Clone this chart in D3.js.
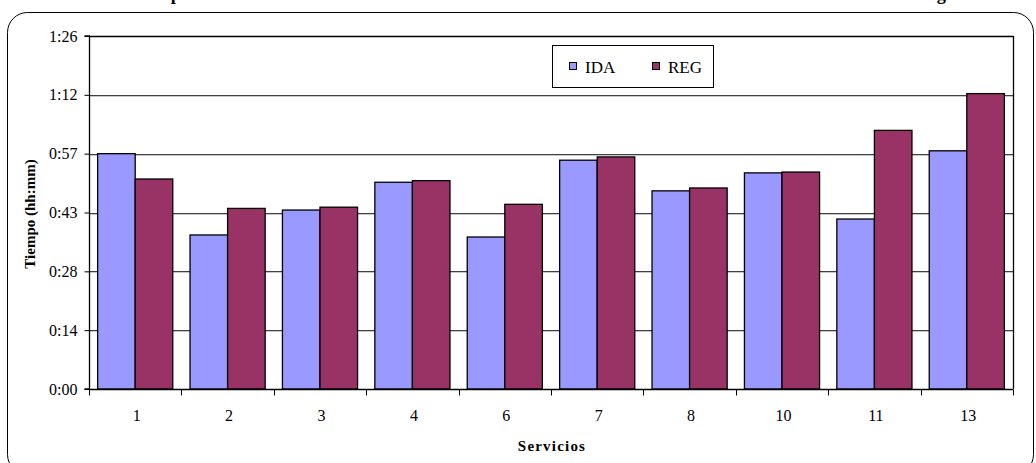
<!DOCTYPE html>
<html><head><meta charset="utf-8">
<script src="https://cdn.jsdelivr.net/npm/d3@7/dist/d3.min.js"></script>
<style>
html,body{margin:0;padding:0;background:#fff;}
svg{display:block;}
svg text{font-family:"Times New Roman","Liberation Serif",Tinos,Times,serif;}
</style></head>
<body>
<svg id="chart" width="1036" height="463"></svg>
<script>
const categories = ["1","2","3","4","6","7","8","10","11","13"];
const idaValues = [57.6,37.7,43.8,50.6,37.2,56.0,48.5,52.9,41.6,58.3];
const regValues = [51.4,44.2,44.5,51.0,45.2,56.8,49.2,53.1,63.3,72.3];
const seriesNames = ["IDA","REG"];
const seriesColors = ["#9999FF","#993366"];
const yTickValues = [0,14.4,28.8,43.2,57.6,72,86.4];
const titleText = "Comparación de la duración media de los recorridos IDA frente a REG en cada servicio del horario largo";
const yAxisTitle = "Tiempo (hh:mm)";
const xAxisTitle = "Servicios";

const svg = d3.select("#chart");
const L = 89, R = 1013, T = 36, B = 389;

function fmt(m){
  const h = Math.floor(m/60);
  const mm = Math.floor(m - h*60 + 1e-9);
  return h + ":" + String(mm).padStart(2,"0");
}

// outer rounded frame
svg.append("rect").attr("x",7.5).attr("y",12.5).attr("width",1026).attr("height",462)
  .attr("rx",20).attr("ry",20).attr("fill","none").attr("stroke","#000").attr("stroke-width",1);

// title (mostly clipped at top, as in the reference)
svg.append("text").attr("x",133).attr("y",0).attr("text-anchor","start")
  .attr("font-weight","bold").attr("font-size",18)
  .attr("textLength",822).attr("lengthAdjust","spacingAndGlyphs").text(titleText);

const x = d3.scaleBand().domain(categories).range([L,R]).paddingInner(0).paddingOuter(0);
const y = d3.scaleLinear().domain([0,86.4]).range([B,T]);

// gridlines
const g = svg.append("g");
yTickValues.filter(v=>v>0 && v<86.4).forEach(v=>{
  g.append("line").attr("x1",L).attr("x2",R).attr("y1",Math.round(y(v))+0.5).attr("y2",Math.round(y(v))+0.5)
    .attr("stroke","#404040");
  g.append("line").attr("x1",L).attr("x2",R).attr("y1",Math.round(y(v))+1.5).attr("y2",Math.round(y(v))+1.5)
    .attr("stroke","#c8c8c8");
});

// bars
const bw = x.bandwidth();
const w = bw/2.46;
const off = 0.23*w;
const data = categories.map((c,i)=>({c, vals:[idaValues[i], regValues[i]]}));
data.forEach(d=>{
  d.vals.forEach((v,j)=>{
    svg.append("rect")
      .attr("x", x(d.c)+off+j*w)
      .attr("y", y(v))
      .attr("width", w)
      .attr("height", B - y(v))
      .attr("fill", seriesColors[j])
      .attr("stroke","#000").attr("stroke-width",1.3);
  });
});

// plot border top/right
svg.append("line").attr("x1",L).attr("x2",R+0.5).attr("y1",T+0.5).attr("y2",T+0.5).attr("stroke","#000").attr("stroke-width",1.3);
svg.append("line").attr("x1",R+0.5).attr("x2",R+0.5).attr("y1",T).attr("y2",B).attr("stroke","#000").attr("stroke-width",1.3);

// y axis
const yAxis = d3.axisLeft(y).tickValues(yTickValues).tickFormat(fmt).tickSize(5).tickPadding(7);
const ya = svg.append("g").attr("transform",`translate(${L+0.5},0)`).call(yAxis);
ya.attr("font-family",null);
ya.select(".domain").attr("stroke","#000").attr("stroke-width",1.3).attr("d",`M-5,${T}H0V${B}H-5`);
ya.selectAll("text").attr("font-size",16).attr("fill","#000");

// x axis
const xAxis = d3.axisBottom(x).tickSize(0);
const xa = svg.append("g").attr("transform",`translate(0,${B+0.5})`).call(xAxis);
xa.attr("font-family",null);
xa.select(".domain").attr("stroke","#000").attr("stroke-width",1.3).attr("d",`M${L},0H${R+0.5}`);
xa.selectAll("text").attr("font-size",16).attr("fill","#000").attr("y",31.5).attr("dy",0).attr("dx",1.5);
const bounds = categories.map(c=>x(c)).concat([R]);
xa.selectAll(".bnd").data(bounds).enter().append("line").attr("class","bnd")
  .attr("x1",d=>Math.round(d)+0.5).attr("x2",d=>Math.round(d)+0.5).attr("y1",0).attr("y2",6).attr("stroke","#000");

// axis titles
svg.append("text").attr("transform",`translate(34.5,214) rotate(-90)`).attr("text-anchor","middle")
  .attr("font-weight","bold").attr("font-size",15).text(yAxisTitle);
svg.append("text").attr("x",552).attr("y",451).attr("text-anchor","middle")
  .attr("font-weight","bold").attr("font-size",15).attr("letter-spacing",1.2).text(xAxisTitle);

// legend
const lg = svg.append("g");
lg.append("rect").attr("x",552.5).attr("y",45.5).attr("width",161).attr("height",42)
  .attr("fill","#fff").attr("stroke","#000");
const lx = [569, 652];
seriesNames.forEach((n,i)=>{
  lg.append("rect").attr("x",lx[i]+0.5).attr("y",62.5).attr("width",7).attr("height",7)
    .attr("fill",seriesColors[i]).attr("stroke","#000");
  lg.append("text").attr("x",lx[i]+16).attr("y",72.5).attr("font-size",17).text(n);
});
</script>
</body></html>
